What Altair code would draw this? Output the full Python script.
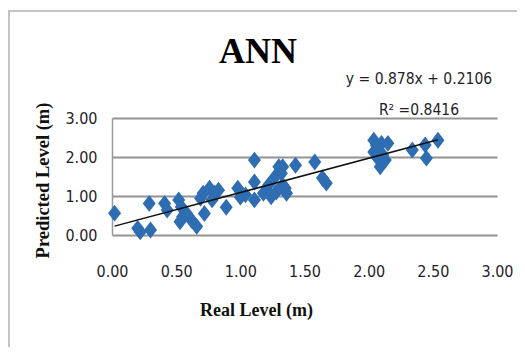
import altair as alt
import pandas as pd

real_level = [0.02, 0.20, 0.22, 0.30, 0.29, 0.41, 0.43, 0.52, 0.54, 0.55, 0.53, 0.58,
              0.62, 0.66, 0.69, 0.72, 0.71, 0.76, 0.78, 0.83, 0.80, 0.89, 0.98, 1.00,
              1.04, 1.11, 1.11, 1.11, 1.18, 1.22, 1.24, 1.27, 1.30, 1.32, 1.33, 1.36,
              1.33, 1.28, 1.35, 1.43, 1.58, 1.64, 1.67, 2.04, 2.04, 2.06, 2.09, 2.13,
              2.10, 2.15, 2.06, 2.11, 2.07, 2.34, 2.44, 2.45, 2.54]
pred_level = [0.56, 0.17, 0.08, 0.13, 0.81, 0.81, 0.64, 0.90, 0.72, 0.47, 0.34, 0.56,
              0.38, 0.22, 0.94, 0.55, 1.07, 1.20, 0.90, 1.15, 1.07, 0.71, 1.20, 0.97,
              1.03, 1.92, 1.36, 0.90, 1.07, 1.28, 0.98, 1.49, 1.75, 1.58, 1.28, 1.07,
              1.75, 1.10, 1.20, 1.79, 1.87, 1.46, 1.33, 2.43, 2.13, 2.10, 1.75, 1.92,
              2.35, 2.35, 2.30, 2.05, 1.97, 2.18, 2.31, 1.97, 2.43]

slope = 0.878
intercept = 0.2106
x_ticks = [0, 0.5, 1.0, 1.5, 2.0, 2.5, 3.0]
y_ticks = [0, 1, 2, 3]

pts = pd.DataFrame({"x": real_level, "y": pred_level})
xmin, xmax = min(real_level), max(real_level)
trend = pd.DataFrame({"x": [xmin, xmax],
                      "y": [slope * xmin + intercept, slope * xmax + intercept]})
one = pd.DataFrame({"a": [0]})

label_font = "DejaVu Sans Condensed, Roboto, sans-serif"
serif = "Liberation Serif"

xscale = alt.Scale(domain=[0, 3], nice=False)
yscale = alt.Scale(domain=[0, 3], nice=False)

xaxis = alt.Axis(values=x_ticks, format=".2f", grid=False, domain=False, ticks=False,
                 labelFlush=False, labelOverlap=False,
                 labelFont=label_font, labelFontSize=16, labelColor="#1e1e2a",
                 labelPadding=28, title="Real Level (m)", titleFont=serif,
                 titleFontSize=18, titleFontWeight="bold", titleColor="#111111",
                 titleX=144, titleY=75, titleAlign="center", titleBaseline="middle")
yaxis = alt.Axis(values=y_ticks, format=".2f", grid=True, gridColor="#939393",
                 gridWidth=2, domain=True, domainColor="#9a9a9a", domainWidth=1.5,
                 ticks=False, labelFlush=False, labelOverlap=False,
                 labelFont=label_font, labelFontSize=16,
                 labelColor="#1e1e2a", labelPadding=15, title="Predicted Level (m)",
                 titleFont=serif, titleFontSize=18.5, titleFontWeight="bold",
                 titleColor="#111111", titleX=-70, titleY=62, titleAlign="center",
                 titleBaseline="middle", titleAngle=-90)

border = alt.Chart(one).mark_rect(fillOpacity=0, stroke="#c4c4c4", strokeWidth=2).encode(
    x=alt.value(-103), x2=alt.value(430), y=alt.value(-107), y2=alt.value(260))

points = alt.Chart(pts).mark_point(
    shape="M0,-1.3L1,0L0,1.3L-1,0Z", filled=True, size=169, opacity=1,
    color="#2f6db3").encode(
    x=alt.X("x:Q", scale=xscale, axis=xaxis),
    y=alt.Y("y:Q", scale=yscale, axis=yaxis))

line = alt.Chart(trend).mark_line(color="#111111", strokeWidth=1.5).encode(
    x=alt.X("x:Q", scale=xscale, axis=xaxis), y=alt.Y("y:Q", scale=yscale, axis=yaxis))

title = alt.Chart(one).mark_text(text="ANN", font=serif, fontSize=36, fontWeight="bold",
                                 color="#000000", align="center",
                                 baseline="alphabetic").encode(
    x=alt.value(146), y=alt.value(-55))
eq = alt.Chart(one).mark_text(text="y = 0.878x + 0.2106", font=label_font, fontSize=15.5,
                              color="#1e1e2a", align="center", baseline="middle").encode(
    x=alt.value(307), y=alt.value(-39))
r2 = alt.Chart(one).mark_text(text="R² =0.8416", font=label_font, fontSize=15.5,
                              color="#1e1e2a", align="center", baseline="middle").encode(
    x=alt.value(307), y=alt.value(-8))

chart = alt.layer(border, points, line, title, eq, r2).properties(
    width=385, height=117,
    autosize=alt.AutoSizeParams(type="none"),
    padding={"left": 104, "top": 110, "right": 20, "bottom": 112},
).configure_view(strokeWidth=0)

chart.save("out.html", embed_options={"renderer": "svg", "actions": False})
